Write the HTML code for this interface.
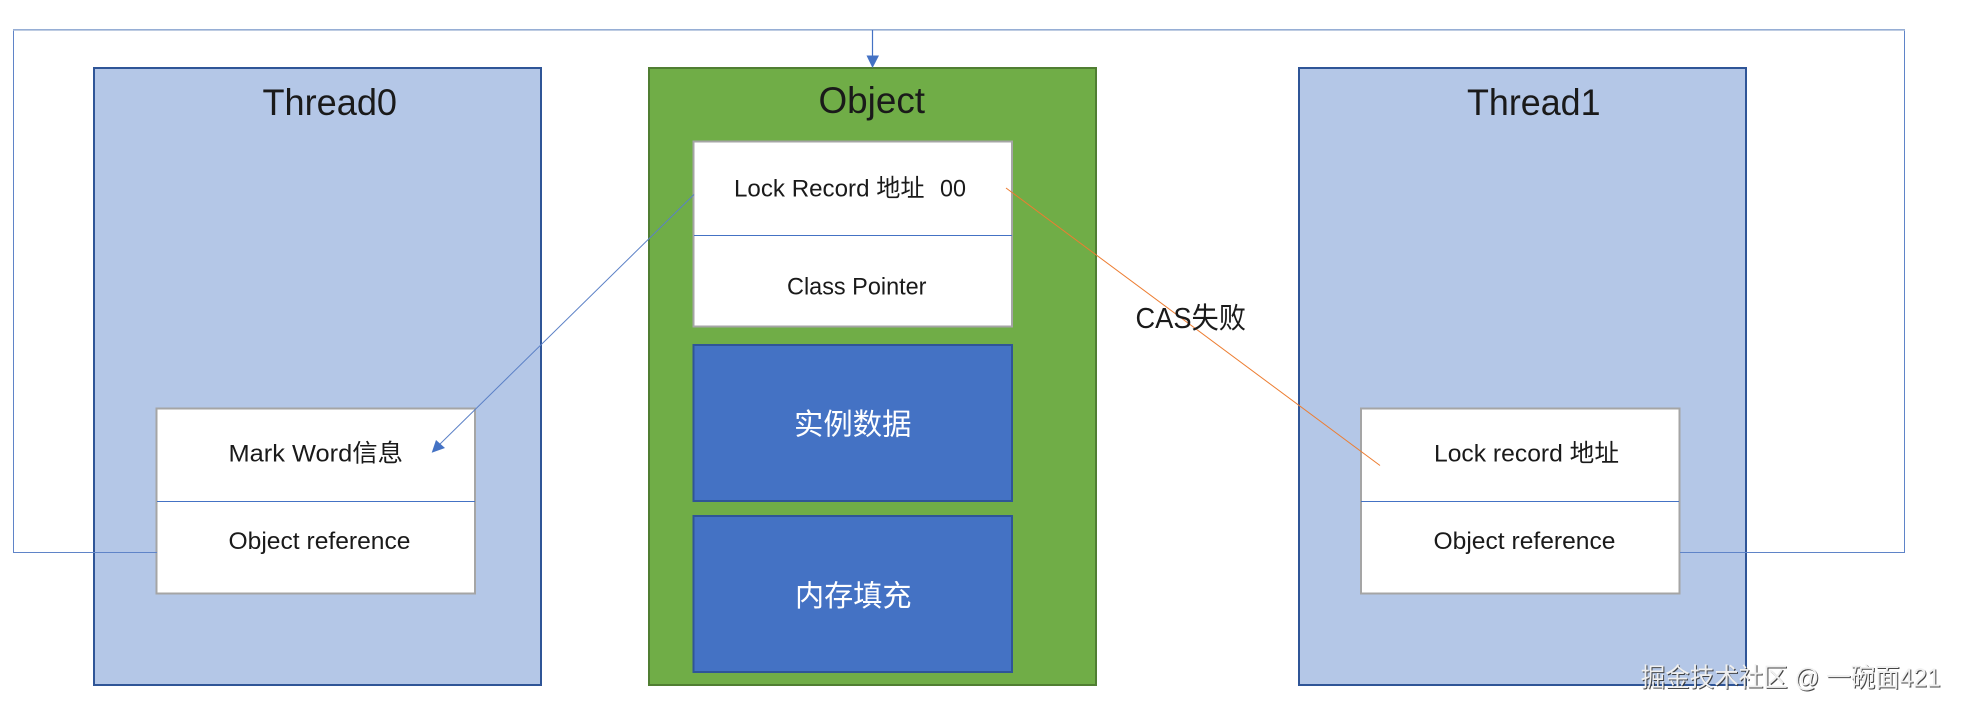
<!DOCTYPE html>
<html>
<head>
<meta charset="utf-8">
<style>
html,body{margin:0;padding:0;background:#fff;width:1963px;height:713px;overflow:hidden}
svg{display:block}
text{font-family:"Liberation Sans","Noto Sans CJK SC",sans-serif;fill:#1a1a1a}
</style>
</head>
<body>
<svg width="1963" height="713" viewBox="0 0 1963 713" xmlns="http://www.w3.org/2000/svg">
<rect width="1963" height="713" fill="#fff"/>
<!-- main boxes -->
<rect x="94" y="68" width="447" height="617" fill="#B4C7E7" stroke="#2F5597" stroke-width="2"/>
<rect x="649" y="68" width="447" height="617" fill="#70AD47" stroke="#507E32" stroke-width="2"/>
<rect x="1299" y="68" width="447" height="617" fill="#B4C7E7" stroke="#2F5597" stroke-width="2"/>
<!-- inner left -->
<rect x="156.500" y="408.500" width="318.500" height="185" fill="#fff" stroke="#A5A5A5" stroke-width="2"/>
<line x1="157" y1="501.500" x2="475" y2="501.500" stroke="#4472C4" stroke-width="1"/>
<!-- inner right -->
<rect x="1361" y="408.500" width="318.500" height="185" fill="#fff" stroke="#A5A5A5" stroke-width="2"/>
<line x1="1361" y1="501.500" x2="1679" y2="501.500" stroke="#4472C4" stroke-width="1"/>
<!-- object inner -->
<rect x="693.500" y="141.500" width="318.500" height="185" fill="#fff" stroke="#A5A5A5" stroke-width="2"/>
<line x1="694" y1="235.500" x2="1012" y2="235.500" stroke="#4472C4" stroke-width="1"/>
<rect x="693.500" y="345" width="318.500" height="156" fill="#4472C4" stroke="#2F5597" stroke-width="2"/>
<rect x="693.500" y="516" width="318.500" height="156" fill="#4472C4" stroke="#2F5597" stroke-width="2"/>
<!-- outer connector -->
<path d="M157 552.500H13.500V29.500H1904.500V552.500H1680" fill="none" stroke="#5F84C8" stroke-width="1"/>
<line x1="13" y1="30" x2="1905" y2="30" stroke="#A9BBD9" stroke-width="1.500"/>
<line x1="872.500" y1="30" x2="872.500" y2="57" stroke="#4472C4" stroke-width="1.200"/>
<polygon points="866.500,55.500 879,55.500 872.500,68" fill="#4472C4"/>
<!-- diagonal arrows -->
<line x1="694" y1="194.500" x2="438" y2="446" stroke="#5B80C6" stroke-width="1"/>
<polygon points="431.700,452.700 436,440 445,448" fill="#4472C4"/>
<line x1="1006" y1="188" x2="1380" y2="465.500" stroke="#ED7D31" stroke-width="1"/>
<!-- text -->
<text x="262.500" y="115" font-size="37" textLength="134.500" lengthAdjust="spacingAndGlyphs">Thread0</text>
<text x="818.500" y="113" font-size="37" textLength="106.500" lengthAdjust="spacingAndGlyphs">Object</text>
<text x="1467" y="115" font-size="37" textLength="133.500" lengthAdjust="spacingAndGlyphs">Thread1</text>
<text x="228.500" y="461.500" font-size="24.500" textLength="174.500" lengthAdjust="spacingAndGlyphs">Mark Word信息</text>
<text x="228.500" y="549" font-size="24.500" textLength="182" lengthAdjust="spacingAndGlyphs">Object reference</text>
<text x="734" y="196.500" font-size="24.500" textLength="190.500" lengthAdjust="spacingAndGlyphs">Lock Record 地址</text>
<text x="940" y="196.500" font-size="24.500" textLength="26" lengthAdjust="spacingAndGlyphs">00</text>
<text x="787" y="294.500" font-size="24.500" textLength="139.500" lengthAdjust="spacingAndGlyphs">Class Pointer</text>
<text x="1135.500" y="328" font-size="29" textLength="110.500" lengthAdjust="spacingAndGlyphs">CAS失败</text>
<text x="794" y="434.500" font-size="29.500" textLength="117.500" lengthAdjust="spacingAndGlyphs" style="fill:#fff">实例数据</text>
<text x="795" y="606" font-size="29.500" textLength="116.500" lengthAdjust="spacingAndGlyphs" style="fill:#fff">内存填充</text>
<text x="1434" y="461.500" font-size="24.500" textLength="185" lengthAdjust="spacingAndGlyphs">Lock record 地址</text>
<text x="1433.500" y="549" font-size="24.500" textLength="182" lengthAdjust="spacingAndGlyphs">Object reference</text>
<!-- watermark -->
<text x="1641.700" y="687.500" font-size="26" textLength="300" lengthAdjust="spacingAndGlyphs" style="fill:#333" opacity="0.9">掘金技术社区 @ 一碗面421</text>
<text x="1640.700" y="686.500" font-size="26" textLength="300" lengthAdjust="spacingAndGlyphs" style="fill:#f0f0f0">掘金技术社区 @ 一碗面421</text>
</svg>
</body>
</html>
